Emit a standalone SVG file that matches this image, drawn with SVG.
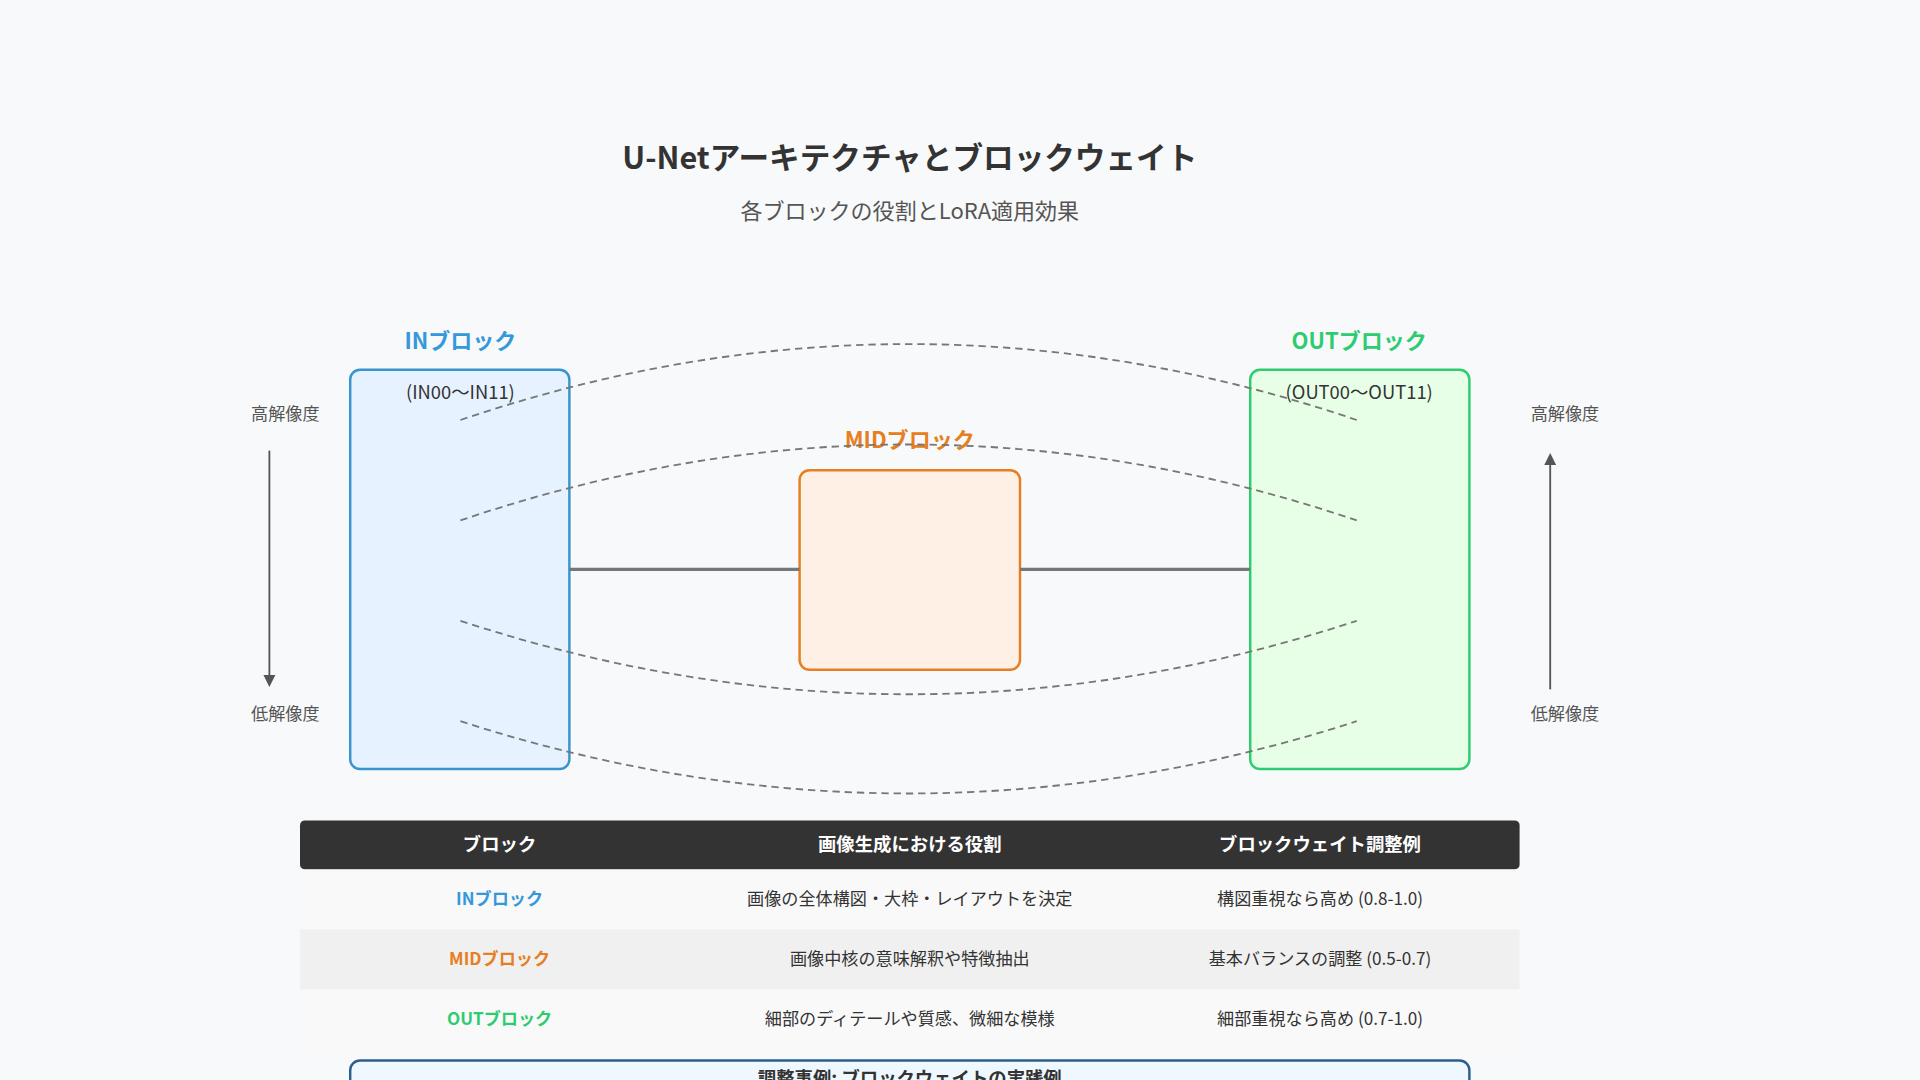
<svg xmlns="http://www.w3.org/2000/svg" width="1920" height="1080" viewBox="0 0 1920 1080">
<defs>
<style>
text{font-family:"Noto Sans CJK JP","Liberation Sans",sans-serif;text-anchor:middle}
.curve{fill:none;stroke:#777;stroke-width:1.5;stroke-dasharray:6,4}
.t{font-size:14px;fill:#333}
.side{font-size:14px;fill:#555}
</style>
<marker id="ah" markerWidth="10" markerHeight="10" refX="5" refY="5" orient="auto" markerUnits="userSpaceOnUse"><path d="M0,0 L10,5 L0,10 z" fill="#555"/></marker>
</defs>
<rect width="1920" height="1080" fill="#f8f9fa"/>
<g transform="scale(1.22449)">
<g id="title">
<text x="743" y="138" font-size="25" font-weight="bold" fill="#333">U-Netアーキテクチャとブロックウェイト</text>
<text x="743" y="179" font-size="18" fill="#555">各ブロックの役割とLoRA適用効果</text>
</g>
<g id="in-block">
<rect x="286" y="302" width="179" height="326" rx="8" fill="#e6f2ff" stroke="#3a94cc" stroke-width="2"/>
<text x="376" y="285" font-size="18" font-weight="bold" fill="#3498db">INブロック</text>
<text x="376" y="326" font-size="15" fill="#333">(IN00〜IN11)</text>
</g>
<g id="mid-block">
<rect x="653" y="384" width="180" height="163" rx="8" fill="#fff0e6" stroke="#e67e22" stroke-width="2"/>
<text x="743" y="366" font-size="18" font-weight="bold" fill="#e67e22">MIDブロック</text>
</g>
<g id="out-block">
<rect x="1021" y="302" width="179" height="326" rx="8" fill="#e6ffe6" stroke="#2ecc71" stroke-width="2"/>
<text x="1110" y="285" font-size="18" font-weight="bold" fill="#2ecc71">OUTブロック</text>
<text x="1110" y="326" font-size="15" fill="#333">(OUT00〜OUT11)</text>
</g>
<g id="connectors">
<line x1="465" y1="465" x2="653" y2="465" stroke="#777" stroke-width="2.5"/>
<line x1="833" y1="465" x2="1021" y2="465" stroke="#777" stroke-width="2.5"/>
<path class="curve" d="M376,343 Q742,219 1108,343"/>
<path class="curve" d="M376,425 Q742,301 1108,425"/>
<path class="curve" d="M376,507 Q742,627 1108,507"/>
<path class="curve" d="M376,589 Q742,707 1108,589"/>
<line x1="220" y1="368" x2="220" y2="556" stroke="#555" stroke-width="1.5" marker-end="url(#ah)"/>
<line x1="1266" y1="563" x2="1266" y2="375" stroke="#555" stroke-width="1.5" marker-end="url(#ah)"/>
</g>
<g id="resolution-labels">
<text class="side" x="233" y="343">高解像度</text>
<text class="side" x="233" y="588">低解像度</text>
<text class="side" x="1278" y="343">高解像度</text>
<text class="side" x="1278" y="588">低解像度</text>
</g>
<g id="table">
<rect x="245" y="670" width="996" height="40" rx="4" fill="#333"/>
<rect x="245" y="710" width="996" height="49" fill="#f9f9f9"/>
<rect x="245" y="759" width="996" height="49" fill="#f0f0f0"/>
<rect x="245" y="808" width="996" height="49" fill="#f9f9f9"/>
<g font-size="15" font-weight="bold" fill="#fff">
<text x="408" y="695">ブロック</text>
<text x="743" y="695">画像生成における役割</text>
<text x="1078" y="695">ブロックウェイト調整例</text>
</g>
<text x="408" y="739" font-size="14" font-weight="bold" fill="#3498db">INブロック</text>
<text class="t" x="743" y="739">画像の全体構図・大枠・レイアウトを決定</text>
<text class="t" x="1078" y="739">構図重視なら高め (0.8-1.0)</text>
<text x="408" y="788" font-size="14" font-weight="bold" fill="#e67e22">MIDブロック</text>
<text class="t" x="743" y="788">画像中核の意味解釈や特徴抽出</text>
<text class="t" x="1078" y="788">基本バランスの調整 (0.5-0.7)</text>
<text x="408" y="837" font-size="14" font-weight="bold" fill="#2ecc71">OUTブロック</text>
<text class="t" x="743" y="837">細部のディテールや質感、微細な模様</text>
<text class="t" x="1078" y="837">細部重視なら高め (0.7-1.0)</text>
</g>
<g id="example-box">
<rect x="286" y="866" width="914" height="80" rx="8" fill="#f0f8ff" stroke="#2c5f8a" stroke-width="2"/>
<text x="743" y="886" font-size="15" font-weight="bold" fill="#333">調整事例: ブロックウェイトの実践例</text>
</g>
</g>
</svg>
